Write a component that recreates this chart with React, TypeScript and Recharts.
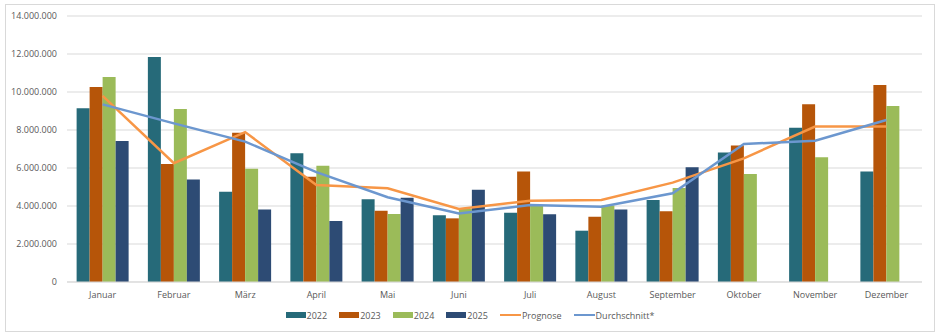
import React from "react";
import { ComposedChart, Bar, Line, XAxis, YAxis, CartesianGrid, Legend } from "recharts";

const months = ["Januar", "Februar", "März", "April", "Mai", "Juni", "Juli", "August", "September", "Oktober", "November", "Dezember"];
const y2022 = [9140000, 11840000, 4750000, 6770000, 4350000, 3510000, 3650000, 2700000, 4320000, 6810000, 8120000, 5820000];
const y2023 = [10260000, 6210000, 7860000, 5540000, 3750000, 3350000, 5810000, 3440000, 3720000, 7190000, 9350000, 10370000];
const y2024 = [10790000, 9100000, 5960000, 6120000, 3580000, 3840000, 4000000, 4020000, 4950000, 5680000, 6560000, 9260000];
const y2025: (number | null)[] = [7420000, 5400000, 3820000, 3210000, 4440000, 4860000, 3560000, 3820000, 6040000, null, null, null];
const prognose = [9800000, 6250000, 7890000, 5100000, 4930000, 3840000, 4280000, 4320000, 5230000, 6510000, 8180000, 8180000];
const durchschnitt = [9350000, 8350000, 7390000, 5780000, 4460000, 3610000, 4050000, 3960000, 4670000, 7260000, 7440000, 8530000];
const yTicks = [0, 2000000, 4000000, 6000000, 8000000, 10000000, 12000000, 14000000];

const data = months.map((m, i) => ({
  month: m,
  y2022: y2022[i],
  y2023: y2023[i],
  y2024: y2024[i],
  y2025: y2025[i],
  prognose: prognose[i],
  durchschnitt: durchschnitt[i],
}));

const FONT = "'Open Sans', 'Noto Sans', sans-serif";
const TEXT = "#595959";

const legendItems = [
  { label: "2022", color: "#266A79", type: "rect" },
  { label: "2023", color: "#B65509", type: "rect" },
  { label: "2024", color: "#9BBB59", type: "rect" },
  { label: "2025", color: "#2D4B74", type: "rect" },
  { label: "Prognose", color: "#F79646", type: "line" },
  { label: "Durchschnitt*", color: "#6C97CF", type: "line" },
];

const fmt = (v: number) => v.toLocaleString("de-DE");

const LegendContent = () => (
  <div style={{ height: 22, display: "flex", justifyContent: "center", alignItems: "center", fontFamily: FONT, fontSize: 9, color: TEXT, paddingLeft: 30 }}>
    {legendItems.map((it) => (
      <div key={it.label} style={{ display: "flex", alignItems: "center", marginRight: 12 }}>
        {it.type === "rect" ? (
          <div style={{ width: 20, height: 6, background: it.color, marginRight: 1 }} />
        ) : (
          <div style={{ width: 21, height: 2, background: it.color, marginRight: 1 }} />
        )}
        <span>{it.label}</span>
      </div>
    ))}
  </div>
);

export default function App() {
  return (
    <div style={{ position: "absolute", left: 0, top: 0, width: 941, height: 336, background: "#fff" }}>
      <div style={{ position: "absolute", left: 5, top: 4, width: 928, height: 326, border: "1px solid #D9D9D9" }} />
      <div style={{ position: "absolute", left: 0, top: 0 }}>
        <ComposedChart
          width={941}
          height={336}
          data={data}
          margin={{ top: 16, right: 19, left: 0, bottom: 10 }}
          barCategoryGap="13.5%"
          barGap={0}
        >
          <CartesianGrid vertical={false} stroke="#D9D9D9" strokeWidth={1} />
          <XAxis
            dataKey="month"
            tickLine={false}
            axisLine={{ stroke: "#D9D9D9" }}
            height={22}
            tickMargin={4}
            tick={{ fontSize: 9, fill: TEXT, fontFamily: FONT }}
            interval={0}
          />
          <YAxis
            width={67}
            domain={[0, 14000000]}
            ticks={yTicks}
            tickFormatter={fmt}
            tickLine={false}
            axisLine={false}
            tickMargin={4}
            tick={{ fontSize: 9, fill: TEXT, fontFamily: FONT }}
          />
          <Legend verticalAlign="bottom" content={<LegendContent />} />
          <Bar dataKey="y2022" name="2022" fill="#266A79" isAnimationActive={false} />
          <Bar dataKey="y2023" name="2023" fill="#B65509" isAnimationActive={false} />
          <Bar dataKey="y2024" name="2024" fill="#9BBB59" isAnimationActive={false} />
          <Bar dataKey="y2025" name="2025" fill="#2D4B74" isAnimationActive={false} />
          <Line dataKey="prognose" name="Prognose" type="linear" stroke="#F79646" strokeWidth={2.5} dot={false} isAnimationActive={false} />
          <Line dataKey="durchschnitt" name="Durchschnitt*" type="linear" stroke="#6C97CF" strokeWidth={2.5} dot={false} isAnimationActive={false} />
        </ComposedChart>
      </div>
    </div>
  );
}
